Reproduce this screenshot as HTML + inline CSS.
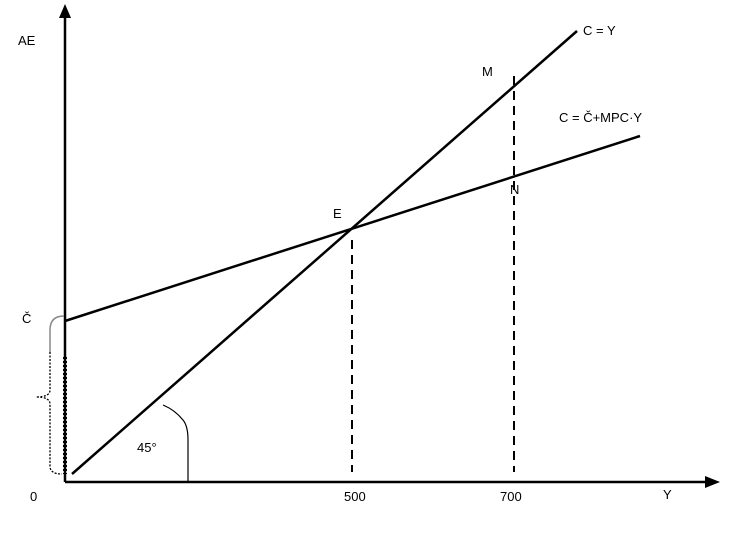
<!DOCTYPE html>
<html><head><style>
html,body{margin:0;padding:0;background:#fff;}
svg{display:block;}
text{font-family:"Liberation Sans",sans-serif;font-size:13px;fill:#000;}
</style></head><body>
<svg width="744" height="541" viewBox="0 0 744 541" xmlns="http://www.w3.org/2000/svg">
<line x1="65" y1="14" x2="65" y2="482" stroke="#000" stroke-width="2.5"/>
<polygon points="65,4 59,18 71,18" fill="#000"/>
<line x1="65" y1="482" x2="708" y2="482" stroke="#000" stroke-width="2.5"/>
<polygon points="720,482 705,476 705,488" fill="#000"/>
<line x1="72" y1="474" x2="577" y2="31" stroke="#000" stroke-width="2.5"/>
<line x1="65" y1="321" x2="640" y2="136" stroke="#000" stroke-width="2.5"/>
<line x1="352" y1="240" x2="352" y2="472" stroke="#000" stroke-width="2" stroke-dasharray="9,6"/>
<line x1="514" y1="76" x2="514" y2="472" stroke="#000" stroke-width="2" stroke-dasharray="9,6"/>
<line x1="65" y1="357" x2="65" y2="474" stroke="#000" stroke-width="4" stroke-dasharray="2,2"/>
<path d="M64,316 Q50,316 50,330 L50,352" fill="none" stroke="#888" stroke-width="1.5"/>
<path d="M50,352 L50,390 Q50,397 36,397 Q50,397 50,404 L50,466 Q50,474 62,474" fill="none" stroke="#000" stroke-width="1.3" stroke-dasharray="2,1.5"/>
<path d="M163,405 Q175,410 183,420 Q188,426 188,440 L188,482" fill="none" stroke="#000" stroke-width="1.2"/>
<text x="18" y="45">AE</text>
<text x="22" y="323">Č</text>
<text x="30" y="501">0</text>
<text x="344" y="501">500</text>
<text x="500" y="501">700</text>
<text x="663" y="499">Y</text>
<text x="333" y="218">E</text>
<text x="482" y="76">M</text>
<text x="510" y="194">N</text>
<text x="583" y="35">C = Y</text>
<text x="559" y="122">C = Č+MPC·Y</text>
<text x="137" y="452">45°</text>
</svg>
</body></html>
